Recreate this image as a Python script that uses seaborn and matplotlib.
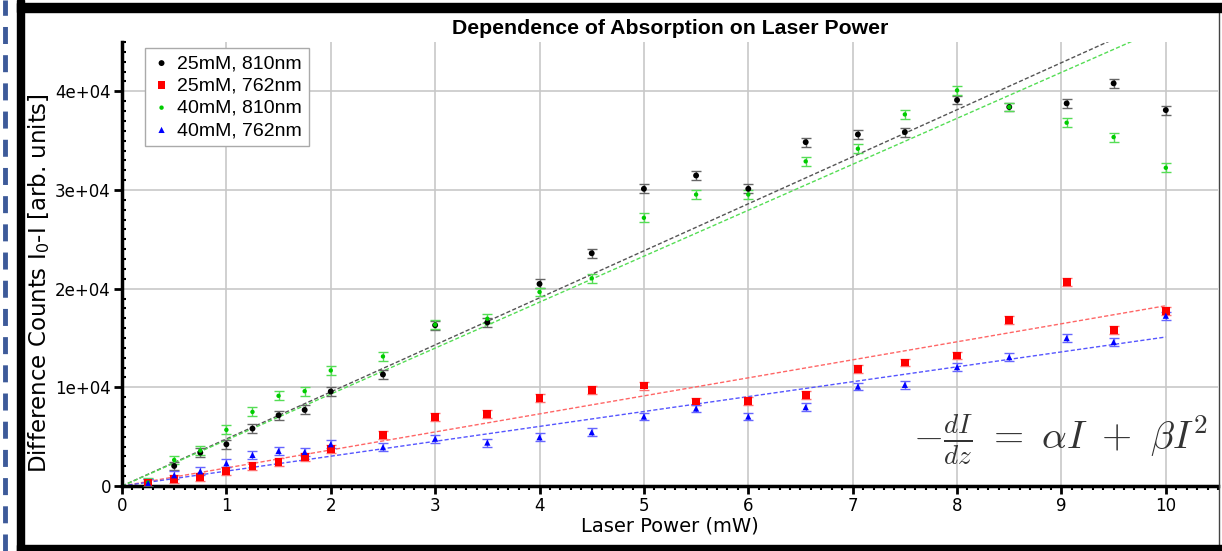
import numpy as np
import pandas as pd
import matplotlib
matplotlib.use("Agg")
import matplotlib.pyplot as plt
import seaborn as sns
from matplotlib.patches import Rectangle
from matplotlib.lines import Line2D
from matplotlib.ticker import MultipleLocator, FixedLocator, FixedFormatter

# ---------------- data ----------------
power = [0.25, 0.5, 0.75, 1.0, 1.25, 1.5, 1.75, 2.0, 2.5, 3.0, 3.5, 4.0, 4.5,
         5.0, 5.5, 6.0, 6.55, 7.05, 7.5, 8.0, 8.5, 9.05, 9.5, 10.0]

counts_25mM_810 = [300, 2030, 3380, 4230, 5820, 7170, 7710, 9580, 11300, 16300,
                   16580, 20480, 23590, 30120, 31470, 30120, 34850, 35630, 35870,
                   39120, 38410, 38780, 40810, 38100]
counts_25mM_762 = [270, 710, 950, 1490, 2030, 2440, 2910, 3790, 5150, 6970,
                   7310, 8900, 9750, 10180, 8560, 8630, 9240, 11880, 12520,
                   13230, 16850, 20680, 15800, 17700]
counts_40mM_810 = [350, 2640, 3590, 5690, 7510, 9140, 9610, 11710, 13130, 16350,
                   16950, 19660, 21050, 27180, 29540, 29540, 32900, 34180, 37660,
                   40100, 38410, 36820, 35360, 32250]
counts_40mM_762 = [270, 1090, 1490, 2300, 3150, 3550, 3450, 4230, 3930, 4800,
                   4400, 4940, 5450, 7040, 7850, 7040, 7990, 10080, 10250,
                   12050, 13060, 14990, 14590, 17260]

series_names = ["25mM, 810nm", "25mM, 762nm", "40mM, 810nm", "40mM, 762nm"]
errors = [450, 400, 450, 400]
fit_slopes = [4767, 1827, 4658, 1510]
fit_range = [0.0, 10.0]

xtick_values = [0, 1, 2, 3, 4, 5, 6, 7, 8, 9, 10]
ytick_values = [0, 10000, 20000, 30000, 40000]
ytick_labels = ["0", "1e+04", "2e+04", "3e+04", "4e+04"]

# ---------------- style ----------------
colors = ["#000000", "#ff0000", "#00cc00", "#0000ff"]
err_colors = ["#666666", "#ff7070", "#55dd55", "#6666ff"]
fit_colors = ["#555555", "#ff6666", "#55dd55", "#5555ff"]
markers = ["o", "s", "o", "^"]
msizes = [18, 32, 10, 20]

sns.set_theme(style="white")
plt.rcParams["font.family"] = ["DejaVu Sans"]
plt.rcParams["text.color"] = "black"
plt.rcParams["axes.labelcolor"] = "black"
plt.rcParams["xtick.color"] = "black"
plt.rcParams["ytick.color"] = "black"

W, H = 1222, 551
fig = plt.figure(figsize=(W / 100, H / 100), dpi=100)
ax = fig.add_axes([122 / W, 1 - 486 / H, (1218 - 122) / W, (486 - 42) / H])

df = pd.DataFrame({
    "power": power * 4,
    "counts": counts_25mM_810 + counts_25mM_762 + counts_40mM_810 + counts_40mM_762,
    "series": sum([[n] * len(power) for n in series_names], []),
})

xfit = np.array(fit_range)
for i, name in enumerate(series_names):
    sub = df[df["series"] == name]
    # fit line
    sns.lineplot(x=xfit, y=fit_slopes[i] * xfit, ax=ax, color=fit_colors[i],
                 lw=1.0, dashes=False, zorder=2, legend=False).lines[-1].set_dashes([3, 1.6])
    ax.errorbar(sub["power"], sub["counts"], yerr=errors[i], fmt="none",
                ecolor=err_colors[i], elinewidth=1.0, capsize=3.5, capthick=1.0, zorder=3)
    sns.scatterplot(data=sub, x="power", y="counts", ax=ax, color=colors[i],
                    marker=markers[i], s=msizes[i], edgecolor="none",
                    label=name, zorder=4)

ax.set_xlim(0, 10.5)
ax.set_ylim(0, 45000)

ax.xaxis.set_major_locator(FixedLocator(xtick_values))
ax.xaxis.set_minor_locator(MultipleLocator(0.1))
ax.yaxis.set_major_locator(FixedLocator(ytick_values))
ax.yaxis.set_major_formatter(FixedFormatter(ytick_labels))
ax.yaxis.set_minor_locator(MultipleLocator(1000))

ax.grid(True, which="major", color="#c8c8c8", lw=1.2)
ax.set_axisbelow(True)
for s in ["top", "right"]:
    ax.spines[s].set_visible(False)
for s in ["left", "bottom"]:
    ax.spines[s].set_color("black")
    ax.spines[s].set_linewidth(2.5)

ax.tick_params(which="major", direction="out", length=6, width=2, colors="black",
               labelsize=12, left=True, bottom=True, pad=2)
ax.tick_params(axis="y", which="minor", direction="in", length=3, width=1.5, left=True)
ax.tick_params(axis="x", which="minor", direction="out", length=3, width=1.5, bottom=True)

ax.set_xlabel("Laser Power (mW)", fontsize=14, labelpad=1)
ax.set_ylabel("Difference Counts I$_0$-I [arb. units]", fontsize=16.5)
ax.yaxis.set_label_coords(-0.064, 0.457)
ax.set_title("Dependence of Absorption on Laser Power", fontsize=15.3,
             fontweight="bold", family=["Liberation Sans"], pad=6)

leg = ax.legend(loc="upper left", bbox_to_anchor=(0.021, 0.987), borderaxespad=0,
                frameon=True, fancybox=False, edgecolor="#aaaaaa", framealpha=1,
                prop={"family": "Liberation Sans", "size": 14},
                handletextpad=0.3, handlelength=1.0, borderpad=0.35, labelspacing=0.24,
                markerscale=1.0)
leg.get_frame().set_linewidth(1.0)

ax.text(0.856, 0.103, r"$-\frac{dI}{dz}\ =\ \alpha I\ +\ \beta I^2$",
        transform=ax.transAxes, ha="center", va="center", fontsize=28,
        color="#333333", math_fontfamily="cm")

# figure frame
fig.patches.append(Rectangle((17 / W, 0), 7 / W, 1, transform=fig.transFigure,
                             color="black", zorder=10))
fig.patches.append(Rectangle((17 / W, 1 - 12 / H), (W - 17) / W, 9 / H,
                             transform=fig.transFigure, color="black", zorder=10))
fig.patches.append(Rectangle((17 / W, 0), (W - 17) / W, 6 / H,
                             transform=fig.transFigure, color="black", zorder=10))
fig.lines.append(Line2D([1219 / W, 1219 / W], [0, 1 - 12 / H], transform=fig.transFigure,
                        color="#444444", lw=1))
fig.lines.append(Line2D([5 / W, 5 / W], [0, 1], transform=fig.transFigure,
                        color="#3d5a99", lw=3.5, dashes=[3.5, 2.3]))

fig.savefig("out.png", dpi=100)
